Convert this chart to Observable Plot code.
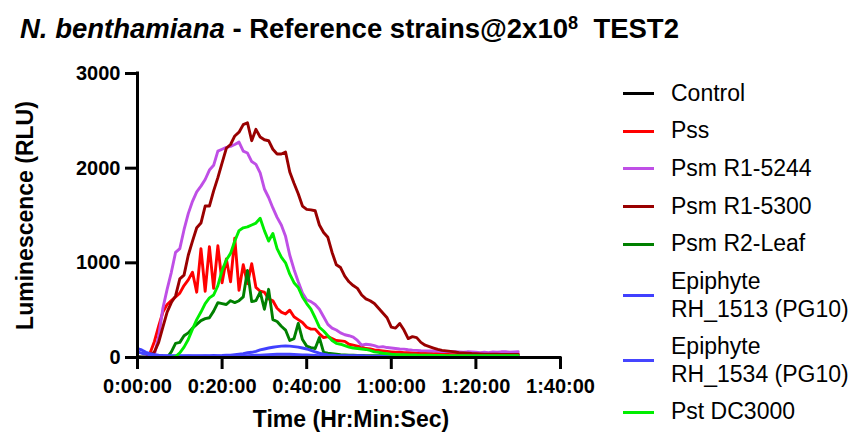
<!DOCTYPE html>
<html><head><meta charset="utf-8">
<script src="https://cdn.jsdelivr.net/npm/d3@7"></script>
<script src="https://cdn.jsdelivr.net/npm/@observablehq/plot@0.6"></script>
<style>
body{margin:0;background:#fff;}
#wrap{position:relative;width:850px;height:433px;overflow:hidden;font-family:"Liberation Sans",Arial,sans-serif;color:#000;}
#wrap svg{position:absolute;left:0;top:0;}
#title{position:absolute;left:20px;top:15px;font-size:27.5px;font-weight:bold;white-space:nowrap;line-height:1;}
#title .sup{position:relative;top:-0.5em;font-size:0.66em;}
.lgline{position:absolute;height:3px;width:31px;left:623px;}
.lgtext{position:absolute;left:671px;font-size:23px;line-height:27.4px;white-space:pre;}
</style></head>
<body><div id="wrap"><div id="title"><i>N. benthamiana</i> - Reference strains@2x10<span class="sup">8</span>&nbsp; TEST2</div></div>
<script>
const minutes = [0,1,2,3,4,5,6,7,8,9,10,11,12,13,14,15,16,17,18,19,20,21,22,23,24,25,26,27,28,29,30,31,32,33,34,35,36,37,38,39,40,41,42,43,44,45,46,47,48,49,50,51,52,53,54,55,56,57,58,59,60,61,62,63,64,65,66,67,68,69,70,71,72,73,74,75,76,77,78,79,80,81,82,83,84,85,86,87,88,89,90];

const seriesNames = ["Control","Pss","Psm R1-5244","Psm R1-5300","Psm R2-Leaf","Epiphyte RH_1513 (PG10)","Epiphyte RH_1534 (PG10)","Pst DC3000"];
const seriesColors = ["#000000","#ff0000","#bf4fe6","#990000","#008000","#4040ff","#4545ff","#00ee00"];

const control = [8,7,6,6,5,5,5,5,5,5, 5,5,5,5,5,5,5,5,5,5, 5,5,5,5,5,5,5,5,5,5, 5,5,5,5,5,5,5,5,5,5, 5,5,5,5,5,5,5,5,5,5, 5,5,5,5,5,5,5,5,5,5, 5,5,5,5,5,5,5,5,5,5, 5,5,5,5,5,5,5,5,5,5, 5,5,5,5,5,5,5,5,5,5, 5];
const pss = [0,0,0,50,170,330,480,560,600,640, 680,760,820,900,690,1150,700,1170,730,1180, 790,1040,800,1260,710,980,780,990,740,700, 690,620,600,520,480,460,500,430,400,370, 320,300,300,250,210,220,200,180,175,170, 140,130,120,110,95,90,80,75,70,65, 60,55,55,50,50,48,45,45,42,45, 40,42,40,38,40,38,36,38,35,36, 35,34,36,35,33,34,35,33,34,35, 34];
const psmR15244 = [0,0,0,0,30,220,520,720,900,1110, 1150,1350,1520,1650,1750,1810,1880,1980,2030,2180, 2200,2220,2230,2250,2275,2180,2160,2070,2040,1950, 1780,1690,1580,1480,1400,1280,1080,930,800,680, 610,590,560,510,430,350,310,290,260,240, 230,215,180,130,140,135,125,110,115,105, 100,95,90,88,82,78,75,72,70,68, 70,65,62,65,60,62,58,55,60,58, 55,50,55,52,58,55,60,62,55,58, 60];
const psmR15300 = [0,0,0,20,60,160,320,480,580,650, 830,870,1080,1230,1370,1420,1600,1600,1760,1900, 2056,2210,2250,2340,2380,2460,2480,2290,2410,2330, 2300,2290,2200,2150,2150,2170,1960,1840,1730,1600, 1565,1560,1550,1400,1320,1270,1110,980,950,860, 800,760,730,660,620,600,570,520,470,420, 320,310,360,290,200,220,210,160,130,115, 100,85,75,70,65,60,50,48,45,42, 40,38,36,35,35,34,33,33,32,32, 32];
const psmR2Leaf = [0,0,0,0,0,0,0,0,60,150, 160,230,260,310,350,390,410,420,490,580, 570,560,600,580,600,640,920,590,600,690, 510,720,400,380,330,290,180,200,360,190, 120,105,95,210,55,45,40,35,30,28, 25,25,22,22,20,20,20,18,18,18, 15,15,15,15,15,14,14,14,14,14, 12,12,12,12,12,12,12,12,12,12, 10,10,10,10,10,10,10,10,10,10, 10];
const epiRH1513 = [95,80,55,40,30,25,22,20,20,18, 18,18,20,18,18,20,18,20,22,20, 22,25,25,30,35,40,50,55,65,80, 90,100,108,115,120,122,120,115,110,100, 90,75,60,45,35,28,25,22,20,20, 18,18,18,18,15,15,15,15,15,15, 15,15,15,15,15,15,15,15,15,15, 15,15,15,15,15,15,15,15,15,15, 15,15,15,15,15,15,15,15,15,15, 15];
const epiRH1534 = [60,45,35,28,22,20,18,16,15,15, 14,15,16,15,14,15,16,15,14,16, 15,16,18,17,16,18,20,22,24,25, 28,30,32,34,35,36,34,32,30,28, 26,24,22,20,18,17,16,15,15,14, 14,14,13,13,13,12,12,12,12,12, 12,12,11,11,11,11,11,11,10,10, 10,10,10,10,10,10,10,10,10,10, 10,10,10,10,10,10,10,10,10,10, 10];
const pstDC3000 = [0,0,0,0,0,0,0,0,0,10, 50,110,190,300,400,480,570,630,660,760, 920,1030,1100,1230,1340,1370,1380,1400,1420,1470, 1340,1230,1310,1150,1060,1000,880,790,740,640, 570,510,420,320,280,230,180,150,140,125, 110,100,95,90,85,75,60,55,45,40, 35,32,30,30,28,28,26,25,25,24, 22,22,22,20,20,20,20,20,20,20, 18,18,18,18,18,18,18,18,18,18, 18];

const yTicks = [0, 1000, 2000, 3000];
const xTicks = [0, 20, 40, 60, 80, 100];
const yTitle = "Luminescence (RLU)";
const xTitle = "Time (Hr:Min:Sec)";

const allSeries = [control, pss, psmR15244, psmR15300, psmR2Leaf, epiRH1513, epiRH1534, pstDC3000];
const rows = [];
allSeries.forEach((vals, i) => vals.forEach((v, j) => rows.push({t: minutes[j], v, s: seriesNames[i]})));

const fmt = m => `${Math.floor(m / 60)}:${String(m % 60).padStart(2, "0")}:00`;

const chart = Plot.plot({
  width: 850, height: 433,
  marginLeft: 137, marginRight: 290, marginTop: 73, marginBottom: 76,
  x: {domain: [0, 100]},
  y: {domain: [0, 3000]},
  color: {domain: seriesNames, range: seriesColors},
  style: {fontFamily: "Liberation Sans, Arial, sans-serif", fontSize: "20px", fontWeight: "bold", color: "#000", background: "transparent"},
  marks: [
    Plot.line(rows, {x: "t", y: "v", z: "s", stroke: d => d.s, strokeWidth: 2.9}),
    Plot.ruleX([0], {y1: 0, y2: 3000, stroke: "#000", strokeWidth: 3, strokeLinecap: "square"}),
    Plot.ruleY([0], {x1: 0, x2: 100, stroke: "#000", strokeWidth: 3, strokeLinecap: "square"}),
    Plot.axisY({ticks: yTicks, tickSize: 12, tickPadding: 5, strokeWidth: 3, label: null, tickFormat: d => String(d), fontSize: 20, fontWeight: "bold"}),
    Plot.axisX({ticks: xTicks, tickSize: 12, tickPadding: 9, strokeWidth: 3, label: null, tickFormat: fmt, fontSize: 20, fontWeight: "bold"}),
    Plot.text([yTitle], {text: d => d, frameAnchor: "left", textAnchor: "middle", lineAnchor: "middle", dx: -112, rotate: -90, fontSize: 23, fontWeight: "bold"}),
    Plot.text([xTitle], {text: d => d, frameAnchor: "bottom", textAnchor: "middle", lineAnchor: "middle", dy: 62, dx: 2, fontSize: 23, fontWeight: "bold"})
  ]
});
const wrap = document.getElementById("wrap");
wrap.insertBefore(chart, wrap.firstChild);

// legend
let y = 93.3;
seriesNames.forEach((name, i) => {
  const label = name.startsWith("Epiphyte ") ? name.replace("Epiphyte ", "Epiphyte\n") : name;
  const n = label.split("\n").length;
  const line = document.createElement("div");
  line.className = "lgline";
  line.style.background = seriesColors[i];
  line.style.top = (y + (n - 1) * 27.4 / 2 - 1.5) + "px";
  wrap.appendChild(line);
  const txt = document.createElement("div");
  txt.className = "lgtext";
  txt.textContent = label;
  txt.style.top = (y - 13.7) + "px";
  wrap.appendChild(txt);
  y += 37.7 + (n - 1) * 27.4;
});
</script>
</body></html>
